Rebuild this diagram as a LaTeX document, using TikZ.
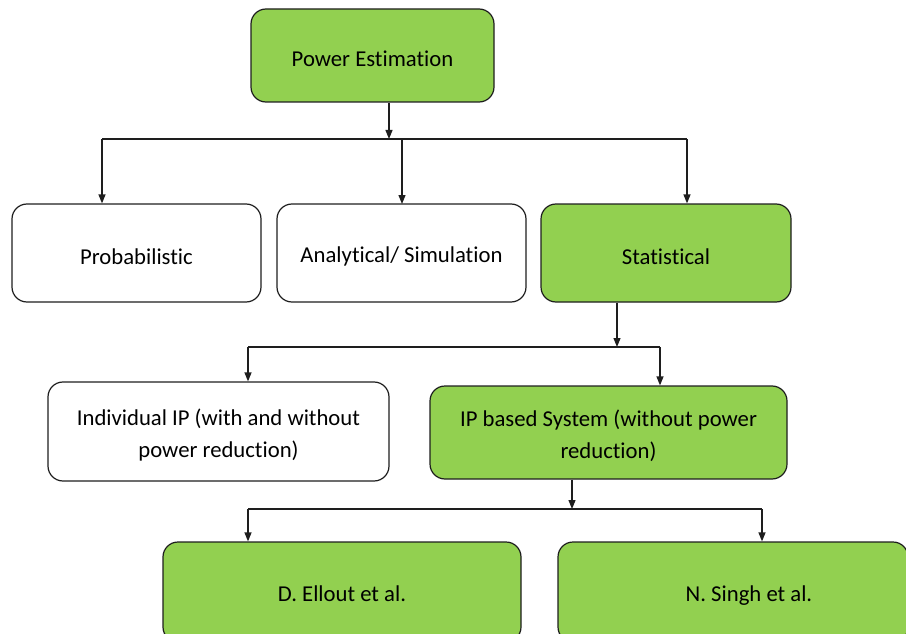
\documentclass[tikz,border=0pt]{standalone}
\usepackage{fontspec}
\setmainfont{Carlito}[Ligatures=NoCommon]
\usetikzlibrary{arrows.meta}
\definecolor{boxgreen}{HTML}{92D050}
\definecolor{edge}{HTML}{1E1E1E}
\begin{document}
\begin{tikzpicture}[x=1pt,y=-1pt,
  box/.style={draw=edge, line width=1.2pt, rounded corners=15pt, inner sep=0pt},
  gbox/.style={box, fill=boxgreen},
  wbox/.style={box, fill=white},
  txt/.style={label={[font=\fontsize{22.7pt}{32pt}\selectfont, align=center, yshift=-3.5pt]center:{#1}}},
  conn/.style={draw=edge, line width=1.2pt},
  arr/.style={conn, -{Triangle[length=9pt,width=7pt]}}]
\useasboundingbox (0,0) rectangle (906,634);
\begin{scope}
\clip (0,0) rectangle (906,634);
\node[gbox, minimum width=243pt, minimum height=93pt, txt={Power Estimation}] (pe) at (372.5,55.5) {};
\node[wbox, minimum width=249pt, minimum height=98pt, txt={Probabilistic}] (prob) at (136.5,253) {};
\node[wbox, minimum width=249pt, minimum height=98pt, txt={Analytical/ Simulation}] (ana) at (401.5,253) {};
\node[gbox, minimum width=250pt, minimum height=98pt, txt={Statistical}] (stat) at (666,253) {};
\node[wbox, minimum width=341pt, minimum height=99pt, txt={Individual IP (with and without\\power reduction)}] (ind) at (218.5,431.5) {};
\node[gbox, minimum width=357pt, minimum height=93pt, txt={IP based System (without power\\reduction)}] (ipb) at (608.5,432.5) {};
\node[gbox, minimum width=358pt, minimum height=100pt,
  label={[font=\fontsize{22.7pt}{32pt}\selectfont, yshift=-1.5pt]center:D. Ellout et al.}] (del) at (342,592) {};
\node[gbox, minimum width=350pt, minimum height=100pt,
  label={[font=\fontsize{22.7pt}{32pt}\selectfont, xshift=16pt, yshift=-4pt]center:N. Singh et al.}] (nsi) at (733,592) {};

% level 1 connectors
\coordinate (j1) at (389,139);
\coordinate (l1a) at (102,139);
\coordinate (l1c) at (687,139);
\draw[arr] (pe.south -| j1) -- (j1);
\draw[conn] (l1a) -- (l1c);
\draw[arr] (l1a) -- (l1a |- prob.north);
\draw[arr] (402,139) -- (402,204);
\draw[arr] (l1c) -- (l1c |- stat.north);

% level 2 connectors
\coordinate (j2) at (617,347);
\coordinate (l2a) at (248,347);
\coordinate (l2b) at (660,347);
\draw[arr] (stat.south -| j2) -- (j2);
\draw[conn] (l2a) -- (l2b);
\draw[arr] (l2a) -- (l2a |- ind.north);
\draw[arr] (l2b) -- (l2b |- ipb.north);

% level 3 connectors
\coordinate (j3) at (572,509);
\coordinate (l3a) at (248,509);
\coordinate (l3b) at (762,509);
\draw[arr] (ipb.south -| j3) -- (j3);
\draw[conn] (l3a) -- (l3b);
\draw[arr] (l3a) -- (l3a |- del.north);
\draw[arr] (l3b) -- (l3b |- nsi.north);
\end{scope}
\end{tikzpicture}
\end{document}
